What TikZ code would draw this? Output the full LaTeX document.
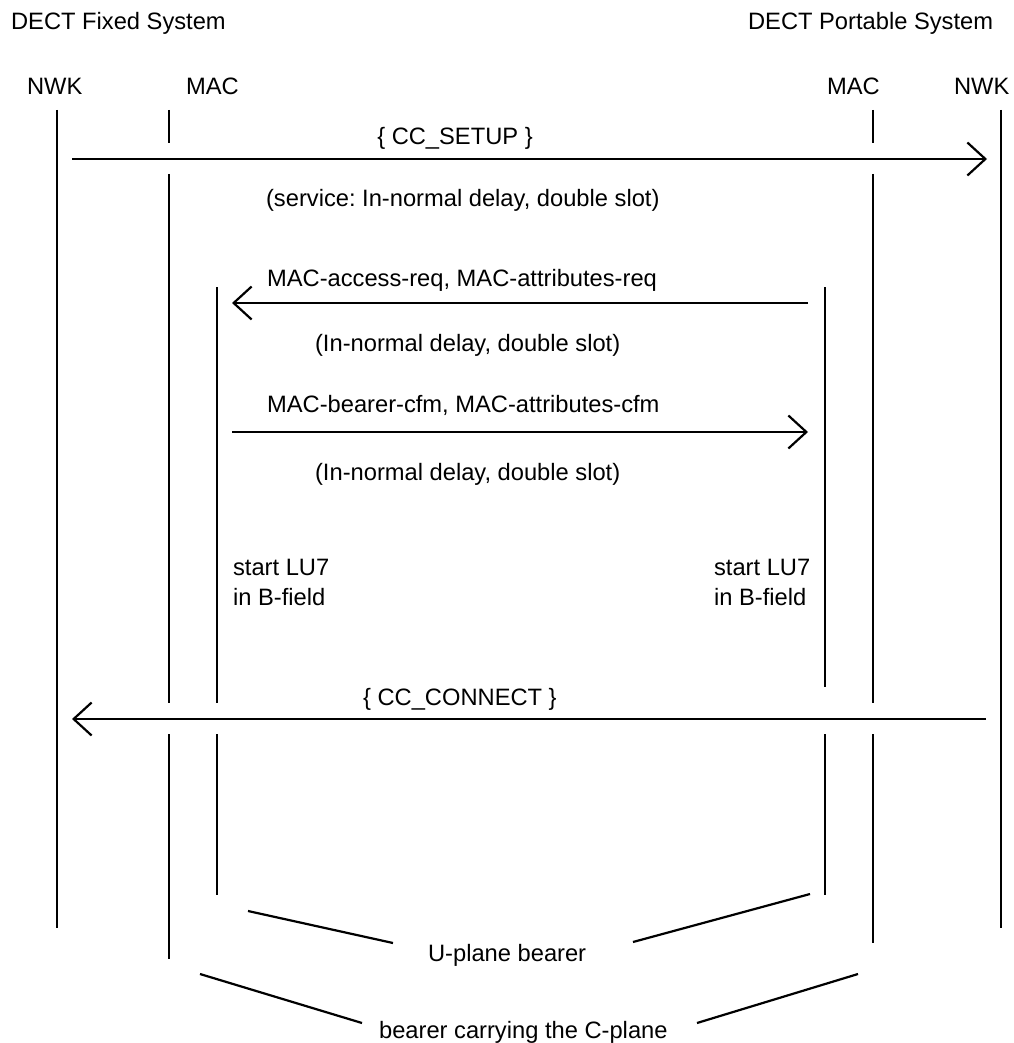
\documentclass[tikz,border=0pt]{standalone}
\usepackage{fontspec}
\setmainfont{Liberation Sans}
\usetikzlibrary{arrows.meta}
\frenchspacing
\begin{document}
\begin{tikzpicture}[x=1pt,y=-1pt,line width=2.2pt,
  lbl/.style={inner sep=0pt,anchor=base west,font=\fontsize{23.7}{28}\selectfont},
  clbl/.style={inner sep=0pt,anchor=base,font=\fontsize{23.7}{28}\selectfont},
  msg/.style={-{Straight Barb[length=18pt,width=33pt]}},
  life/.style={line cap=butt}]
\useasboundingbox (0,0) rectangle (1013,1043);

% headings
\node[lbl] (fixed) at (10,30) {DECT Fixed System};
\node[lbl] (port) at (747,30) {DECT Portable System};
\node[lbl] (nwkAl) at (26,95) {NWK};
\node[lbl] (macAl) at (185,95) {MAC};
\node[lbl] (macBl) at (826,95) {MAC};
\node[lbl] (nwkBl) at (953,95) {NWK};

% lifelines
\coordinate (nA0) at (57,110);  \coordinate (nA1) at (57,928);
\coordinate (mA0) at (169,110); \coordinate (mA1) at (169,143);
\coordinate (mA2) at (169,174); \coordinate (mA3) at (169,703);
\coordinate (mA4) at (169,734); \coordinate (mA5) at (169,959);
\coordinate (iA0) at (217,287); \coordinate (iA1) at (217,703);
\coordinate (iA2) at (217,734); \coordinate (iA3) at (217,895);
\coordinate (iB0) at (825,287); \coordinate (iB1) at (825,687);
\coordinate (iB2) at (825,734); \coordinate (iB3) at (825,895);
\coordinate (mB0) at (873,110); \coordinate (mB1) at (873,143);
\coordinate (mB2) at (873,174); \coordinate (mB3) at (873,703);
\coordinate (mB4) at (873,734); \coordinate (mB5) at (873,943);
\coordinate (nB0) at (1001,110); \coordinate (nB1) at (1001,928);

\draw[life] (nA0) -- (nA1);
\draw[life] (mA0) -- (mA1) (mA2) -- (mA3) (mA4) -- (mA5);
\draw[life] (iA0) -- (iA1) (iA2) -- (iA3);
\draw[life] (iB0) -- (iB1) (iB2) -- (iB3);
\draw[life] (mB0) -- (mB1) (mB2) -- (mB3) (mB4) -- (mB5);
\draw[life] (nB0) -- (nB1);

% messages
\coordinate (s1) at (72,159);  \coordinate (s2) at (987,159);
\draw[msg] (s1) -- (s2);
\node[clbl] (setup) at (455,145) {\{ CC\_SETUP \}};
\node[lbl] (svc) at (265,206) {(service: In-normal delay, double slot)};

\coordinate (a1) at (808,303); \coordinate (a2) at (232,303);
\draw[msg] (a1) -- (a2);
\node[lbl] (acc) at (266,286) {MAC-access-req, MAC-attributes-req};
\node[lbl] (acc2) at (314,351) {(In-normal delay, double slot)};

\coordinate (b1) at (232,432); \coordinate (b2) at (808,432);
\draw[msg] (b1) -- (b2);
\node[lbl] (cfm) at (266,412) {MAC-bearer-cfm, MAC-attributes-cfm};
\node[lbl] (cfm2) at (314,480) {(In-normal delay, double slot)};

\node[lbl] (luA1) at (232,575) {start LU7};
\node[lbl] (luA2) at (232,605) {in B-field};
\node[lbl] (luB1) at (713,575) {start LU7};
\node[lbl] (luB2) at (713,605) {in B-field};

\coordinate (c1) at (986,719); \coordinate (c2) at (72,719);
\draw[msg] (c1) -- (c2);
\node[lbl] (conn) at (362,705) {\{ CC\_CONNECT \}};

% bearer brackets
\node[lbl] (uplane) at (427,961) {U-plane bearer};
\node[lbl] (cplane) at (378,1038) {bearer carrying the C-plane};
\coordinate (u1) at (248,911); \coordinate (u2) at (393,943);
\coordinate (u3) at (633,942); \coordinate (u4) at (810,894);
\coordinate (k1) at (200,974); \coordinate (k2) at (362,1023);
\coordinate (k3) at (697,1023); \coordinate (k4) at (858,974);
\draw (u1) -- (u2);
\draw (u3) -- (u4);
\draw (k1) -- (k2);
\draw (k3) -- (k4);
\end{tikzpicture}
\end{document}
